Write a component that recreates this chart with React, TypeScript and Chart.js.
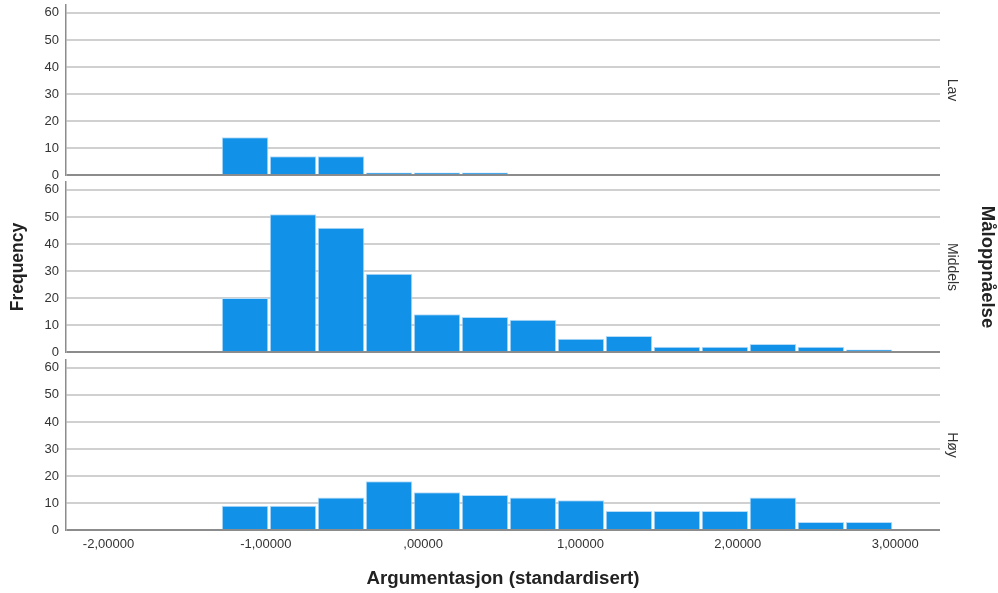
import React, { useEffect, useRef } from 'react';
import { Chart, registerables } from 'chart.js';

Chart.register(...registerables);

// ---- data ----
const binCenters = [-1.132, -0.827, -0.522, -0.217, 0.088, 0.393, 0.698, 1.003, 1.308, 1.613, 1.918, 2.223, 2.528, 2.834];
const lavCounts = [14, 7, 7, 1, 1, 1, 0, 0, 0, 0, 0, 0, 0, 0];
const middelsCounts = [20, 51, 46, 29, 14, 13, 12, 5, 6, 2, 2, 3, 2, 1];
const hoyCounts = [9, 9, 12, 18, 14, 13, 12, 11, 7, 7, 7, 12, 3, 3];
const panelLabels = ['Lav', 'Middels', 'Høy'];
const xMin = -2.27;
const xMax = 3.285;
const yMax = 63;
const yStep = 10;
const xStep = 1;
const xTitle = 'Argumentasjon (standardisert)';
const yTitle = 'Frequency';
const panelTitle = 'Måloppnåelse';

const FONT = "'Liberation Sans', Arial, Helvetica, sans-serif";
const BAR = '#1192e8';

function fmtX(v: number): string {
  const s = Math.abs(v).toFixed(5).replace('.', ',');
  const t = s.startsWith('0,') ? s.slice(1) : s;
  return (v < 0 ? '-' : '') + t;
}

function makeConfig(counts: number[], showX: boolean, showYTitle: boolean): any {
  const xScale: any = {
    type: 'linear',
    min: xMin,
    max: xMax,
    offset: false,
    display: showX,
    grid: { display: false, drawTicks: false },
    border: { display: false },
    ticks: {
      stepSize: xStep,
      includeBounds: false,
      padding: 7,
      maxRotation: 0,
      autoSkip: false,
      color: '#333',
      font: { family: FONT, size: 13 },
      callback: (v: any) => fmtX(Number(v)),
    },
    title: {
      display: showX,
      text: xTitle,
      color: '#222',
      font: { family: FONT, size: 18.7, weight: 'bold' },
      padding: { top: 0, bottom: 3 },
    },
  };
  if (showX) {
    xScale.afterFit = (s: any) => {
      s.height = 63;
    };
  }
  return {
    type: 'bar',
    data: {
      datasets: [
        {
          data: binCenters.map((x, i) => ({ x, y: counts[i] })),
          backgroundColor: BAR,
          borderColor: '#b9dcf6',
          borderWidth: 1,
          barPercentage: 0.97,
          categoryPercentage: 1,
          grouped: false,
        },
      ],
    },
    options: {
      animation: false,
      responsive: false,
      maintainAspectRatio: false,
      layout: { padding: { top: 10, bottom: showX ? 0 : 10, left: 0, right: 58 } },
      plugins: { legend: { display: false }, tooltip: { enabled: false } },
      scales: {
        x: xScale,
        y: {
          min: 0,
          max: yMax,
          ticks: {
            stepSize: yStep,
            includeBounds: false,
            autoSkip: false,
            padding: 7,
            color: '#333',
            font: { family: FONT, size: 13 },
          },
          grid: {
            drawTicks: false,
            color: (c: any) => (c.tick && c.tick.value === 0 ? '#8c8c8c' : '#d0d0d0'),
            lineWidth: 2,
          },
          border: { display: true, color: '#8c8c8c', width: 1.5 },
          title: {
            display: showYTitle,
            text: yTitle,
            color: '#222',
            font: { family: FONT, size: 17.5, weight: 'bold' },
            padding: { top: 8, bottom: 0 },
          },
          afterFit: (s: any) => {
            s.width = 66;
          },
        },
      },
    },
  };
}

const panels = [
  { counts: lavCounts, top: -10, height: 200, showX: false, showYTitle: false, labelY: 90 },
  { counts: middelsCounts, top: 167, height: 200, showX: false, showYTitle: true, labelY: 267 },
  { counts: hoyCounts, top: 345, height: 248, showX: true, showYTitle: false, labelY: 445 },
];

export default function App() {
  const r0 = useRef<HTMLCanvasElement>(null);
  const r1 = useRef<HTMLCanvasElement>(null);
  const r2 = useRef<HTMLCanvasElement>(null);
  const refs = [r0, r1, r2];

  useEffect(() => {
    const charts: Chart[] = [];
    panels.forEach((p, i) => {
      const c = refs[i].current;
      if (c) charts.push(new Chart(c, makeConfig(p.counts, p.showX, p.showYTitle)));
    });
    return () => charts.forEach((c) => c.destroy());
  }, []);

  return (
    <div style={{ position: 'absolute', left: 0, top: 0, width: 998, height: 593, overflow: 'hidden', background: '#fff' }}>
      {panels.map((p, i) => (
        <canvas
          key={i}
          ref={refs[i]}
          width={998}
          height={p.height}
          style={{ position: 'absolute', left: 0, top: p.top, width: 998, height: p.height }}
        />
      ))}
      {panels.map((p, i) => (
        <div
          key={'l' + i}
          style={{
            position: 'absolute',
            left: 953,
            top: p.labelY,
            transform: 'translate(-50%, -50%)',
            writingMode: 'vertical-rl',
            fontFamily: FONT,
            fontSize: 14,
            color: '#333',
            whiteSpace: 'nowrap',
            lineHeight: 1,
          }}
        >
          {panelLabels[i]}
        </div>
      ))}
      <div
        style={{
          position: 'absolute',
          left: 988,
          top: 267,
          transform: 'translate(-50%, -50%)',
          writingMode: 'vertical-rl',
          fontFamily: FONT,
          fontSize: 18.5,
          fontWeight: 'bold',
          color: '#222',
          whiteSpace: 'nowrap',
          lineHeight: 1,
        }}
      >
        {panelTitle}
      </div>
    </div>
  );
}
